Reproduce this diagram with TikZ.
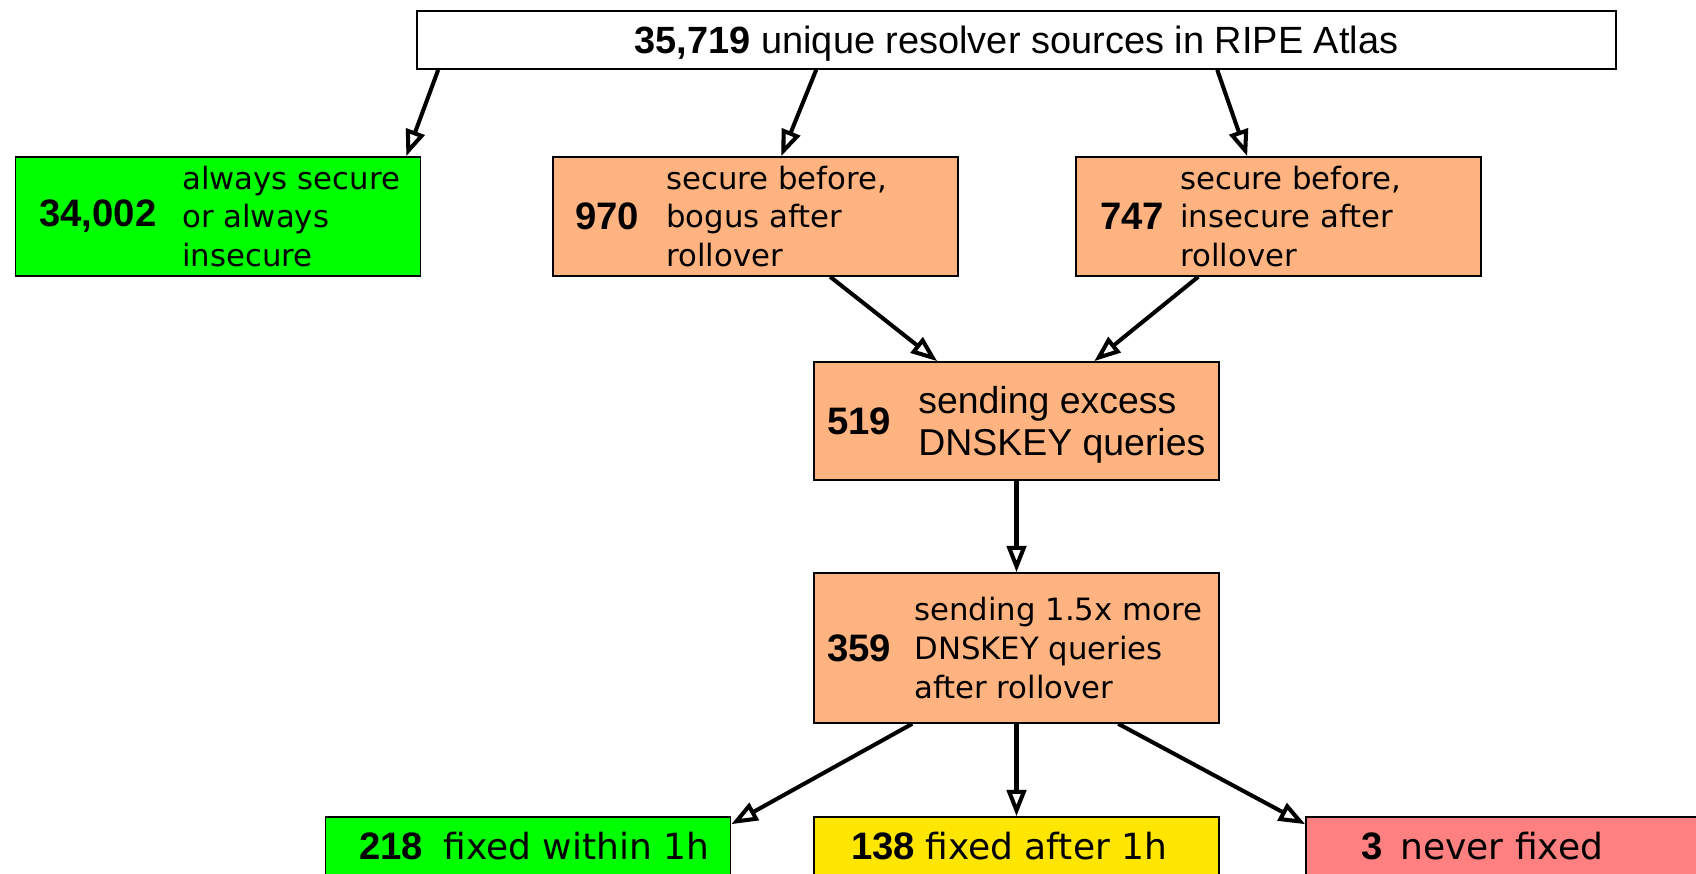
\documentclass[tikz,border=0pt]{standalone}
\usepackage{fontspec}
\setmainfont{DejaVu Sans}
\newfontfamily\helv{Liberation Sans}
\usetikzlibrary{arrows.meta, positioning, calc}
\definecolor{okgreen}{RGB}{0, 255, 0}
\definecolor{rollorange}{RGB}{255, 179, 128}
\definecolor{lateyellow}{RGB}{255, 230, 0}
\definecolor{badred}{RGB}{255, 128, 128}

\begin{document}
\begin{tikzpicture}[x=0.02cm, y=-0.02cm,
  box/.style={draw=black, line width=0.9pt, inner sep=0pt, minimum width=405*0.02cm, minimum height=119*0.02cm},
  num/.style={anchor=west, inner sep=0pt, font=\helv\bfseries\fontsize{21.8}{25}\selectfont},
  desc/.style={anchor=west, inner sep=0pt, align=left, font=\fontsize{17.5}{22}\selectfont},
  outcome/.style={anchor=base west, inner sep=0pt, font=\fontsize{20.5}{24}\selectfont},
  flow/.style={line width=2.3pt, -{Triangle[open, length=15pt, width=11pt]}}]
  \useasboundingbox (0,0) rectangle (1696,874);

  % all sources
  \node[box, fill=white, minimum width=1199*0.02cm, minimum height=58*0.02cm] (src) at (1016.5,40) {};
  \node[inner sep=0pt, font=\helv\fontsize{21.6}{25}\selectfont] (src-t) at (1016.5,44) {\textbf{35,719} unique resolver sources in RIPE Atlas};

  % first split
  \node[box, fill=okgreen] (sec) at (218,216.5) {};
  \node[num] (sec-n) at (39,216.5) {34,002};
  \node[desc] (sec-t) at (182,216.5) {always secure\\or always\\insecure};

  \node[box, fill=rollorange] (bog) at (755.5,216.5) {};
  \node[num] (bog-n) at (575,216.5) {970};
  \node[desc] (bog-t) at (666,216.5) {secure before,\\bogus after\\rollover};

  \node[box, fill=rollorange] (ins) at (1278.5,216.5) {};
  \node[num] (ins-n) at (1100,216.5) {747};
  \node[desc] (ins-t) at (1180,216.5) {secure before,\\insecure after\\rollover};

  % DNSKEY queries
  \node[box, fill=rollorange, minimum height=118*0.02cm] (exc) at (1016.5,421) {};
  \node[num] (exc-n) at (827,421) {519};
  \node[desc, font=\helv\fontsize{21.3}{23.8}\selectfont] (exc-t) at (918,425) {sending excess\\DNSKEY queries};

  \node[box, fill=rollorange, minimum height=150*0.02cm] (more) at (1016.5,648) {};
  \node[num] (more-n) at (827,648) {359};
  \node[desc] (more-t) at (914,648) {sending 1.5x more\\DNSKEY queries\\after rollover};

  % outcomes
  \node[box, fill=okgreen, minimum height=80*0.02cm] (fix1) at (528,857) {};
  \node[num, anchor=base west] (fix1-n) at (359,859) {218};
  \node[outcome] (fix1-t) at (443,859) {fixed within 1h};

  \node[box, fill=lateyellow, minimum height=80*0.02cm] (fix2) at (1016.5,857) {};
  \node[num, anchor=base west] (fix2-n) at (851,859) {138};
  \node[outcome] (fix2-t) at (925,859) {fixed after 1h};

  \node[box, fill=badred, minimum height=80*0.02cm] (never) at (1508.5,857) {};
  \node[num, anchor=base west] (never-n) at (1361,859) {3};
  \node[outcome] (never-t) at (1400,859) {never fixed};

  % arrows
  \draw[flow] ($(src.south west)+(22,0)$) -- ($(sec.north east)+(-15,0)$);
  \draw[flow] ($(src.south west)+(400,0)$) -- ($(bog.north west)+(229,0)$);
  \draw[flow] ($(src.south west)+(801,0)$) -- ($(ins.north west)+(172,0)$);
  \draw[flow] ($(bog.south west)+(278,0)$) -- ($(exc.north west)+(124,0)$);
  \draw[flow] ($(ins.south west)+(123,0)$) -- ($(exc.north west)+(281,0)$);
  \draw[flow] (exc) -- (more);
  \draw[flow] ($(more.south west)+(99,0)$) -- ($(fix1.north east)+(0,8)$);
  \draw[flow] (more) -- (fix2);
  \draw[flow] ($(more.south west)+(305,0)$) -- ($(never.north west)+(0,8)$);
\end{tikzpicture}
\end{document}
